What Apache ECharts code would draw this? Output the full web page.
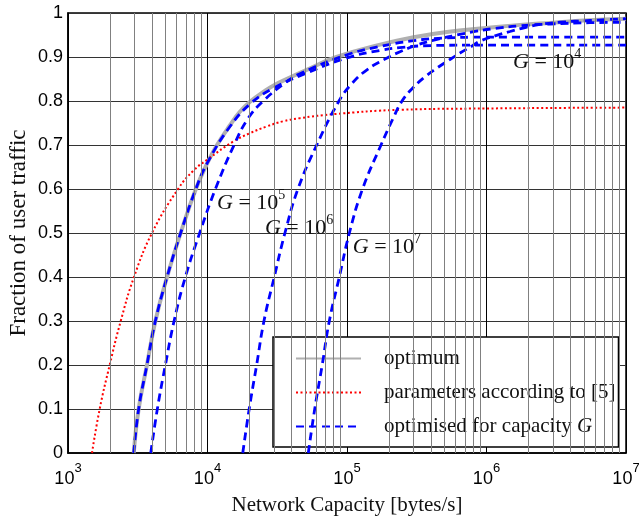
<!DOCTYPE html>
<html><head><meta charset="utf-8">
<script src="https://cdn.jsdelivr.net/npm/echarts@6/dist/echarts.min.js"></script>
<style>html,body{margin:0;padding:0;background:#fff}#c{width:639px;height:517px}</style>
</head><body><div id="c"></div>
<script>
// ---- data ----
const optimumX = [2960, 3210, 3680, 4230, 5130, 6420, 8250, 10000, 11700, 14500, 17000, 20500, 25000, 30000, 40000, 50000, 84000, 173000, 300000, 519000, 1000000, 1740000, 3000000, 5000000, 10000000];
const optimumY = [0, 0.1, 0.2, 0.3, 0.4, 0.5, 0.6, 0.66, 0.7, 0.745, 0.775, 0.8, 0.82, 0.836, 0.855, 0.869, 0.9, 0.928, 0.945, 0.957, 0.966, 0.973, 0.978, 0.983, 0.987];

const paramsX = [1486, 1687, 1990, 2388, 2973, 4000, 6150, 8000, 10000, 15300, 20200, 26500, 34900, 46000, 79800, 240000, 1000000, 10000000];
const paramsY = [0, 0.1, 0.2, 0.3, 0.4, 0.5, 0.6, 0.643, 0.667, 0.708, 0.727, 0.742, 0.754, 0.761, 0.770, 0.780, 0.783, 0.785];

const g4X = [2960, 3210, 3680, 4230, 5130, 6420, 8250, 10000, 14500, 20500, 30000, 50000, 100000, 173000, 250000, 400000, 1000000, 10000000];
const g4Y = [0, 0.1, 0.2, 0.3, 0.4, 0.5, 0.6, 0.66, 0.742, 0.795, 0.830, 0.862, 0.898, 0.915, 0.922, 0.926, 0.927, 0.927];

const g5X = [3920, 4370, 4990, 5760, 6940, 8790, 11400, 15500, 19500, 25100, 35000, 46000, 100000, 173000, 300000, 500000, 1000000, 10000000];
const g5Y = [0, 0.1, 0.2, 0.3, 0.4, 0.5, 0.6, 0.7, 0.76, 0.8, 0.838, 0.862, 0.905, 0.924, 0.937, 0.943, 0.945, 0.945];

const g6X = [17900, 19900, 22500, 25400, 30100, 35900, 44500, 60650, 87600, 108600, 139100, 184200, 239900, 322800, 441800, 614500, 827300, 1151000, 1739000, 2852000, 5520000, 10000000];
const g6Y = [0, 0.1, 0.2, 0.3, 0.4, 0.5, 0.6, 0.7, 0.8, 0.84, 0.871, 0.894, 0.912, 0.928, 0.940, 0.950, 0.958, 0.965, 0.971, 0.975, 0.978, 0.979];

const g7X = [52800, 58700, 66400, 74700, 88100, 104000, 129200, 175300, 213700, 248000, 297200, 362400, 441800, 521000, 645700, 787300, 898300, 1151000, 1474000, 1888000, 2418000, 3365000, 5520000, 10000000];
const g7Y = [0, 0.1, 0.2, 0.3, 0.4, 0.5, 0.6, 0.7, 0.76, 0.8, 0.83, 0.855, 0.875, 0.89, 0.909, 0.925, 0.936, 0.948, 0.958, 0.967, 0.974, 0.979, 0.983, 0.987];

const yTicks = [0, 0.1, 0.2, 0.3, 0.4, 0.5, 0.6, 0.7, 0.8, 0.9, 1];
const minorGridX = [2000,3000,4000,5000,6000,7000,8000,9000, 20000,30000,40000,50000,60000,70000,80000,90000, 200000,300000,400000,500000,600000,700000,800000,900000, 2000000,3000000,4000000,5000000,6000000,7000000,8000000,9000000];

// annotation anchors: [x, y, exponent]
const annotG4 = [1550000, 0.893, 4];
const annotG5 = [11700, 0.573, 5];
const annotG6 = [25800, 0.516, 6];
const annotG7 = [110000, 0.472, 7];

const nameOpt = 'optimum';
const nameParams = 'parameters according to [5]';
const nameBlue = 'optimised for capacity G';

// ---- build ----
const zip = (xs, ys) => xs.map((x, i) => [x, ys[i]]);
const serif = 'Liberation Serif';
const sans = 'Liberation Sans';
const SMOOTH = 0.45;

const annRich = {
  i: { fontFamily: serif, fontStyle: 'italic', fontSize: 22, color: '#111', lineHeight: 26, verticalAlign: 'bottom' },
  n: { fontFamily: serif, fontSize: 22, color: '#111', lineHeight: 26, verticalAlign: 'bottom' },
  s: { fontFamily: serif, fontSize: 14, color: '#111', lineHeight: 14, verticalAlign: 'top' }
};
function annot(a) {
  return {
    symbol: 'circle', symbolSize: 0, silent: true,
    data: [{ coord: [a[0], a[1]] }],
    label: {
      show: true, position: 'right', distance: 0,
      formatter: '{i|G}{n| = 10}{s|' + a[2] + '}',
      rich: annRich
    }
  };
}

const blueStyle = { color: '#0000ff', width: 2.8, type: [8, 5] };
function blueSeries(xs, ys, a) {
  return {
    name: nameBlue, type: 'line', data: zip(xs, ys), symbol: 'none', showSymbol: false,
    smooth: SMOOTH, z: 4,
    lineStyle: blueStyle, itemStyle: { color: '#0000ff' },
    markPoint: annot(a)
  };
}

const chart = echarts.init(document.getElementById('c'));
chart.setOption({
  animation: false,
  backgroundColor: '#fff',
  grid: { left: 68, right: 13, top: 13, bottom: 64, show: true, borderColor: '#000', borderWidth: 1.5, containLabel: false, outerBoundsMode: 'none' },
  xAxis: {
    type: 'log', logBase: 10, min: 1000, max: 10000000,
    name: 'Network Capacity [bytes/s]', nameLocation: 'middle', nameGap: 42,
    nameTextStyle: { fontFamily: serif, fontSize: 21, color: '#111' },
    axisLine: { show: true, lineStyle: { color: '#000', width: 1.5 } },
    axisTick: { show: false },
    splitLine: { show: true, lineStyle: { color: '#000', width: 1 } },
    axisLabel: {
      margin: 9, showMinLabel: true, showMaxLabel: true,
      formatter: v => '{b|10}{s|' + Math.round(Math.log10(v)) + '}',
      rich: {
        b: { fontFamily: sans, fontSize: 18, color: '#000', lineHeight: 26, verticalAlign: 'bottom' },
        s: { fontFamily: sans, fontSize: 13, color: '#000', lineHeight: 13, verticalAlign: 'top' }
      }
    }
  },
  yAxis: {
    type: 'value', min: 0, max: 1, interval: 0.1,
    name: 'Fraction of user traffic', nameLocation: 'middle', nameGap: 38, nameMoveOverlap: false,
    nameTextStyle: { fontFamily: serif, fontSize: 23, color: '#111' },
    axisLine: { show: true, lineStyle: { color: '#000', width: 1.5 } },
    axisTick: { show: false },
    splitLine: { show: true, lineStyle: { color: '#333', width: 1 } },
    axisLabel: { fontFamily: sans, fontSize: 18, color: '#000', margin: 5, formatter: v => String(+v.toFixed(1)) }
  },
  legend: {
    data: [nameOpt, nameParams, nameBlue],
    orient: 'vertical', left: 273, top: 337,
    itemWidth: 65, itemHeight: 14, itemGap: 13,
    padding: [11, 3, 10, 22],
    backgroundColor: '#fff', borderColor: '#000', borderWidth: 1.5, borderRadius: 0,
    selectedMode: false,
    itemStyle: { color: 'rgba(0,0,0,0)', borderColor: 'rgba(0,0,0,0)', borderWidth: 0, opacity: 0 },
    formatter: name => name === nameBlue ? '{sp| }{n|optimised for capacity }{i|G}' : '{sp| }{n|' + name + '}',
    textStyle: {
      rich: {
        sp: { width: 18 },
        n: { fontFamily: serif, fontSize: 21, color: '#111', lineHeight: 20 },
        i: { fontFamily: serif, fontStyle: 'italic', fontSize: 21, color: '#111', lineHeight: 20 }
      }
    }
  },
  series: [
    {
      name: 'minor grid', type: 'line', data: [], z: 1, silent: true,
      markLine: {
        silent: true, symbol: ['none', 'none'], label: { show: false },
        lineStyle: { color: '#808080', width: 1, type: 'solid' },
        emphasis: { disabled: true },
        data: minorGridX.map(v => ({ xAxis: v }))
      }
    },
    {
      name: nameOpt, type: 'line', data: zip(optimumX, optimumY), symbol: 'none', showSymbol: false,
      smooth: SMOOTH, z: 2,
      lineStyle: { color: '#b0b0b0', width: 4, type: 'solid' }, itemStyle: { color: '#b0b0b0' }
    },
    {
      name: nameParams, type: 'line', data: zip(paramsX, paramsY), symbol: 'none', showSymbol: false,
      smooth: SMOOTH, z: 3,
      lineStyle: { color: '#ff0000', width: 2, type: [2, 2.5] }, itemStyle: { color: '#ff0000' }
    },
    blueSeries(g4X, g4Y, annotG4),
    blueSeries(g5X, g5Y, annotG5),
    blueSeries(g6X, g6Y, annotG6),
    blueSeries(g7X, g7Y, annotG7)
  ]
});
</script>
</body></html>
